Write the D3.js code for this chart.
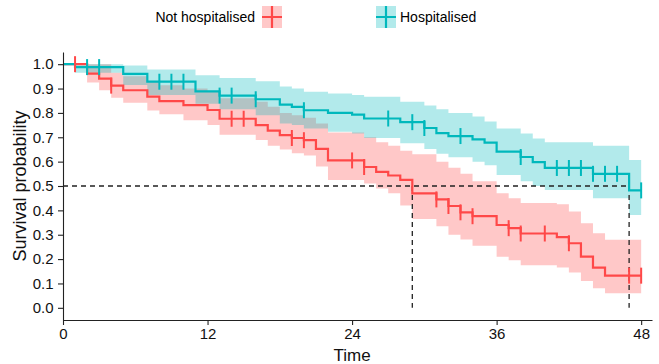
<!DOCTYPE html>
<html>
<head>
<meta charset="utf-8">
<script src="https://cdn.jsdelivr.net/npm/d3@7"></script>
<style>
  body { margin: 0; background: #fff; }
  svg { display: block; font-family: "Liberation Sans", Arial, sans-serif; }
  .axis path, .axis line { stroke: #222; stroke-width: 1.1; }
  .axis text { fill: #111; font-size: 15px; }
</style>
</head>
<body>
<div id="chart"></div>
<script>
// Kaplan-Meier steps
const hospTime  = [0, 1, 5, 7, 11, 13, 16, 18, 19, 20, 22, 24, 25, 28, 30, 31, 32, 34, 35, 36, 38, 39, 40, 44, 47];
const hospSurv  = [1, 0.988, 0.96, 0.928, 0.888, 0.871, 0.856, 0.834, 0.825, 0.811, 0.80, 0.793, 0.777, 0.762, 0.738, 0.717, 0.705, 0.691, 0.678, 0.641, 0.619, 0.598, 0.574, 0.55, 0.482];
const hospLower = [1, 0.965, 0.915, 0.873, 0.838, 0.815, 0.79, 0.757, 0.75, 0.736, 0.723, 0.715, 0.697, 0.675, 0.652, 0.632, 0.618, 0.60, 0.585, 0.545, 0.52, 0.50, 0.484, 0.45, 0.381];
const hospUpper = [1, 1, 0.995, 0.978, 0.955, 0.943, 0.93, 0.908, 0.90, 0.887, 0.88, 0.873, 0.866, 0.846, 0.83, 0.815, 0.80, 0.785, 0.765, 0.736, 0.716, 0.695, 0.68, 0.665, 0.607];
const hospCensor = [2, 3, 8, 9, 10, 13, 14, 16, 20, 27, 29, 30, 33, 38, 41, 42, 43, 44, 45, 46, 48];

const notTime  = [0, 2, 3, 4, 5, 7, 8, 10, 12, 13, 16, 17, 18, 19, 20, 21, 22, 25, 26, 27, 28, 29, 31, 32, 33, 34, 36, 37, 38, 41, 42, 43, 44, 45];
const notSurv  = [1, 0.961, 0.941, 0.912, 0.893, 0.867, 0.848, 0.832, 0.812, 0.776, 0.75, 0.727, 0.709, 0.697, 0.688, 0.652, 0.605, 0.578, 0.558, 0.543, 0.525, 0.47, 0.445, 0.418, 0.392, 0.376, 0.34, 0.327, 0.305, 0.29, 0.265, 0.21, 0.165, 0.132];
const notLower = [1, 0.925, 0.893, 0.862, 0.842, 0.81, 0.795, 0.77, 0.75, 0.71, 0.689, 0.665, 0.65, 0.634, 0.625, 0.58, 0.525, 0.51, 0.49, 0.47, 0.42, 0.365, 0.335, 0.30, 0.28, 0.255, 0.21, 0.195, 0.175, 0.165, 0.145, 0.11, 0.08, 0.06];
const notUpper = [1, 1, 1, 0.965, 0.95, 0.93, 0.914, 0.90, 0.887, 0.86, 0.846, 0.825, 0.80, 0.79, 0.78, 0.757, 0.72, 0.70, 0.68, 0.665, 0.645, 0.63, 0.60, 0.575, 0.55, 0.52, 0.47, 0.45, 0.43, 0.425, 0.395, 0.347, 0.306, 0.279];
const notCensor = [1, 4, 14, 15, 19, 20, 24, 25, 31, 32, 33, 34, 37, 38, 40, 42, 47, 48];

const groups = ['Not hospitalised', 'Hospitalised'];
const colors = ['#FF4848', '#00B8BC'];
const xTicks = [0, 12, 24, 36, 48];
const yTicks = [0, 0.1, 0.2, 0.3, 0.4, 0.5, 0.6, 0.7, 0.8, 0.9, 1.0];
const endTime = 48;
const medians = [29, 47];

const width = 659, height = 364;

const svg = d3.select('#chart')
  .append('svg')
    .attr('width', width)
    .attr('height', height);

const x = d3.scaleLinear().domain([0, 48.9]).range([63, 652]);
const y = d3.scaleLinear().domain([-0.05, 1.05]).range([320, 52]);

function toSteps(time, surv, lower, upper) {
  const pts = time.map((t, i) => ({t: t, s: surv[i], lo: lower[i], hi: upper[i]}));
  const last = pts[pts.length - 1];
  pts.push({t: endTime, s: last.s, lo: last.lo, hi: last.hi});
  return pts;
}

const series = [
  {name: groups[0], color: colors[0], pts: toSteps(notTime, notSurv, notLower, notUpper), censor: notCensor},
  {name: groups[1], color: colors[1], pts: toSteps(hospTime, hospSurv, hospLower, hospUpper), censor: hospCensor}
];

const band = d3.area()
  .curve(d3.curveStepAfter)
  .x(d => x(d.t))
  .y0(d => y(d.lo))
  .y1(d => y(d.hi));

const line = d3.line()
  .curve(d3.curveStepAfter)
  .x(d => x(d.t))
  .y(d => y(d.s));

// confidence bands
svg.selectAll('.band')
  .data(series)
  .join('path')
    .attr('class', 'band')
    .attr('d', d => band(d.pts))
    .style('fill', d => d.color)
    .style('fill-opacity', 0.3);

// median lines
const medY = y(0.5);
svg.append('line')
  .attr('x1', x(0)).attr('x2', x(d3.max(medians)))
  .attr('y1', medY).attr('y2', medY)
  .style('stroke', '#222').style('stroke-width', 1.3)
  .style('stroke-dasharray', '5,4');
svg.selectAll('.medv')
  .data(medians)
  .join('line')
    .attr('class', 'medv')
    .attr('x1', d => x(d)).attr('x2', d => x(d))
    .attr('y1', medY).attr('y2', y(0))
    .style('stroke', '#222').style('stroke-width', 1.3)
    .style('stroke-dasharray', '5,4');

// survival curves
svg.selectAll('.curve')
  .data(series)
  .join('path')
    .attr('class', 'curve')
    .attr('d', d => line(d.pts))
    .style('fill', 'none')
    .style('stroke', d => d.color)
    .style('stroke-width', 2.2);

// censor marks
function survAt(pts, t) {
  const times = pts.map(p => p.t);
  const i = d3.bisectRight(times, t) - 1;
  return pts[Math.max(0, i)].s;
}

series.forEach(s => {
  svg.append('g')
    .selectAll('line')
    .data(s.censor)
    .join('line')
      .attr('x1', t => x(t)).attr('x2', t => x(t))
      .attr('y1', t => y(survAt(s.pts, t)) - 8)
      .attr('y2', t => y(survAt(s.pts, t)) + 8)
      .style('stroke', s.color)
      .style('stroke-width', 2);
});

// axes
svg.append('g')
  .attr('class', 'axis')
  .attr('transform', 'translate(0,320)')
  .call(d3.axisBottom(x).tickValues(xTicks).tickSize(5).tickSizeOuter(0))
  .selectAll('text').attr('dy', '0.72em');

svg.append('g')
  .attr('class', 'axis')
  .attr('transform', 'translate(63,0)')
  .call(d3.axisLeft(y).tickValues(yTicks).tickFormat(d3.format('.1f')).tickSize(5).tickSizeOuter(0))
  .selectAll('text').attr('dx', '-0.1em');

svg.append('text')
  .attr('x', x(24)).attr('y', 361)
  .attr('text-anchor', 'middle')
  .style('font-size', '17px')
  .style('fill', '#111')
  .text('Time');

svg.append('text')
  .attr('transform', 'translate(26,' + y(0.5) + ') rotate(-90)')
  .attr('text-anchor', 'middle')
  .style('font-size', '18px')
  .style('fill', '#111')
  .text('Survival probability');

// legend
const legend = svg.append('g');
function key(g, kx, color) {
  g.append('rect')
    .attr('x', kx).attr('y', 6).attr('width', 20).attr('height', 22)
    .style('fill', color).style('fill-opacity', 0.3);
  g.append('path')
    .attr('d', 'M' + (kx + 10) + ',6V28M' + kx + ',17H' + (kx + 20))
    .style('stroke', color).style('stroke-width', 2.2);
}
legend.append('text')
  .attr('x', 255).attr('y', 22)
  .attr('text-anchor', 'end')
  .style('font-size', '14px')
  .text(groups[0]);
key(legend, 262, colors[0]);
key(legend, 376, colors[1]);
legend.append('text')
  .attr('x', 400).attr('y', 22)
  .style('font-size', '14px')
  .text(groups[1]);
</script>
</body>
</html>
